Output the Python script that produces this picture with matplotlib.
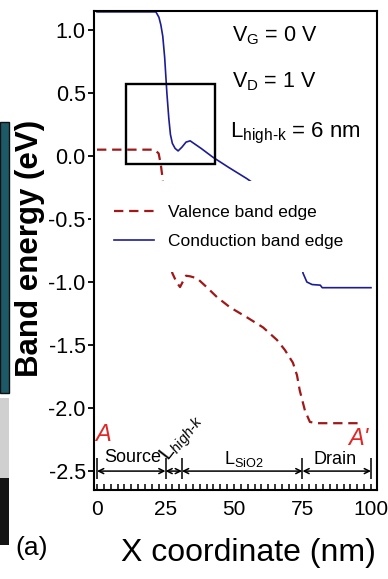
import matplotlib
matplotlib.use('Agg')
import matplotlib.pyplot as plt
from matplotlib import font_manager
from matplotlib.patches import Rectangle

# band edge profiles along the channel (nm, eV)
x_valence = [0, 21, 22.5, 23.3, 24, 25, 26, 27, 27.5, 29, 30.3, 31.5, 32.5, 34,
             36.5, 40, 43.8, 48.5, 54.7, 60.6, 65.7, 68.6, 71.5, 73, 74, 75.9,
             77.7, 80, 90, 97]
e_valence = [0.05, 0.05, 0.02, -0.07, -0.19, -0.45, -0.70, -0.88, -0.93, -1.00,
             -1.04, -0.99, -0.95, -0.955, -0.97, -1.04, -1.12, -1.20, -1.28,
             -1.36, -1.46, -1.54, -1.64, -1.74, -1.86, -2.02, -2.11, -2.12,
             -2.12, -2.12]

x_conduction = [0, 21.5, 22.6, 23.3, 24, 24.7, 25.5, 26.2, 26.8, 27.5, 28.5,
                29.6, 31, 32.5, 34, 38, 42.3, 48, 54.7, 60.6, 65.7, 68.6, 71.5,
                74, 75.2, 76.6, 78.5, 81.5, 82.2, 100]
e_conduction = [1.143, 1.143, 1.10, 1.04, 0.95, 0.78, 0.50, 0.30, 0.17, 0.10,
                0.06, 0.04, 0.07, 0.11, 0.12, 0.06, -0.01, -0.09, -0.18, -0.27,
                -0.37, -0.45, -0.55, -0.77, -0.93, -1.00, -1.02, -1.025, -1.045,
                -1.045]

# device regions along x
region_edges = [0, 25, 31, 75, 100]

x_ticks = [0, 25, 50, 75, 100]
y_ticks = [1.0, 0.5, 0.0, -0.5, -1.0, -1.5, -2.0, -2.5]

W, H = 388, 579

names = {f.name for f in font_manager.fontManager.ttflist}
narrow = 'Liberation Sans Narrow' if 'Liberation Sans Narrow' in names else 'Liberation Sans'

plt.rcParams['font.family'] = [narrow, 'DejaVu Sans']
plt.rcParams['axes.unicode_minus'] = False
plt.rcParams['mathtext.fontset'] = 'custom'
plt.rcParams['mathtext.rm'] = narrow
plt.rcParams['mathtext.it'] = narrow + ':italic'

fig = plt.figure(figsize=(W / 100, H / 100), dpi=100)
ax = fig.add_axes([94 / W, 1 - 490 / H, (377 - 94) / W, (490 - 11) / H])

ax.plot(x_valence, e_valence, color='#a01818', lw=1.6, dashes=(4.2, 2.6),
        label='Valence band edge', zorder=2)
ax.plot(x_conduction, e_conduction, color='#1c1c96', lw=1.2,
        label='Conduction band edge', zorder=2)

# zoom window around the high-k barrier
ax.add_patch(Rectangle((10.6, -0.063), 43 - 10.6, 0.571 + 0.063, fill=False,
                       ec='black', lw=1.7, zorder=3))

ax.set_xlim(-1.1, 102.2)
ax.set_ylim(-2.65, 1.15)
ax.set_xticks(x_ticks)
ax.set_xticks([i * 2.5 for i in range(41)], minor=True)
ax.set_yticks(y_ticks)
ax.set_yticklabels([f'{v:.1f}' for v in y_ticks])
ax.tick_params(axis='x', which='both', direction='in', length=4.5, width=1.1,
               labelsize=15, pad=7)
ax.tick_params(axis='y', direction='out', length=4.5, width=1.3,
               labelsize=15.5, pad=1.5)
for s in ax.spines.values():
    s.set_linewidth(1.5)

# opaque legend sits over the curves but under the frame
leg = ax.legend(loc='upper left', bbox_to_anchor=(-0.012, 0.645),
                prop={'family': 'Liberation Sans', 'size': 12.5},
                frameon=True, facecolor='white', edgecolor='none', framealpha=1,
                handlelength=2.3, handletextpad=0.8, borderpad=1.35,
                labelspacing=0.8, borderaxespad=0)
leg.set_zorder(2.2)

# bias conditions
ax.text(49.3, 0.905, r'$\mathregular{V_G}$ = 0 V', fontsize=15.5)
ax.text(49.3, 0.54, r'$\mathregular{V_D}$ = 1 V', fontsize=15.5)
ax.text(48.5, 0.15, r'$\mathregular{L_{high\text{-}k}}$ = 6 nm', fontsize=16)

# region markers along the bottom
for a, b in zip(region_edges[:-1], region_edges[1:]):
    ax.annotate('', xy=(b, -2.5), xytext=(a, -2.5),
                arrowprops=dict(arrowstyle='<->', lw=1.1, color='black',
                                shrinkA=0, shrinkB=0, mutation_scale=9))
ax.vlines(region_edges, -2.56, -2.40, color='black', lw=1.1)
lab = dict(fontsize=13, family='Liberation Sans', va='baseline', ha='center')
ax.text(13.2, -2.43, 'Source', **lab)
ax.text(53.6, -2.44, r'L$_{\mathregular{SiO2}}$', **lab)
ax.text(87.0, -2.44, 'Drain', **lab)
ax.text(26.0, -2.43, r'L$_{high\text{-}k}$', fontsize=15, family='Liberation Sans',
        rotation=52, ha='left', va='baseline', rotation_mode='anchor')

ax.text(2.2, -2.21, 'A', color='#e02828', fontsize=17, style='italic',
        ha='center', va='center')
ax.text(91.6, -2.24, "A'", color='#e02828', fontsize=17, style='italic',
        ha='left', va='center')

fig.text(30 / W, 1 - 248 / H, 'Band energy (eV)', rotation=90, fontsize=22.5,
         fontweight='bold', family='Liberation Sans', ha='center', va='center')
fig.text(248 / W, 1 - 553 / H, 'X coordinate (nm)', fontsize=23,
         ha='center', va='center')
fig.text(32 / W, 1 - 548 / H, '(a)', fontsize=19, ha='center', va='center')

# edge of the neighbouring panel
fig.patches.append(Rectangle((0, 1 - 393 / H), 9 / W, 271 / H,
                             transform=fig.transFigure, fc='#1d5a68',
                             ec='#101010', lw=1))
fig.patches.append(Rectangle((0, 1 - 478 / H), 9 / W, 80 / H,
                             transform=fig.transFigure, fc='#d0d0d0', ec='none'))
fig.patches.append(Rectangle((0, 1 - 545 / H), 9 / W, 67 / H,
                             transform=fig.transFigure, fc='#151515', ec='none'))

fig.savefig('out.png', dpi=100)
